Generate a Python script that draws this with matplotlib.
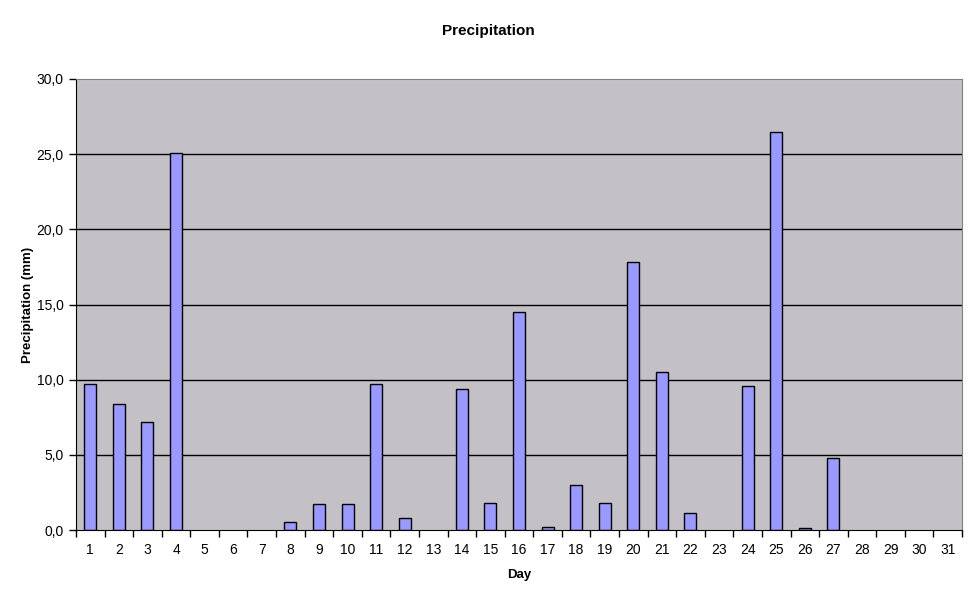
import matplotlib
matplotlib.use("Agg")
import matplotlib.pyplot as plt
import numpy as np

days = list(range(1, 32))
precip = [9.7, 8.4, 7.2, 25.1, 0, 0, 0, 0.5, 1.7, 1.7, 9.7, 0.8, 0, 9.4, 1.8, 14.5,
          0.2, 3.0, 1.8, 17.8, 10.5, 1.1, 0, 9.6, 26.5, 0.1, 4.8, 0, 0, 0, 0]
yticks = [0, 5, 10, 15, 20, 25, 30]
ytick_labels = ["0,0", "5,0", "10,0", "15,0", "20,0", "25,0", "30,0"]

plt.rcParams['font.family'] = ['Liberation Sans', 'DejaVu Sans']
fig = plt.figure(figsize=(9.77, 6.0), dpi=100)
ax = fig.add_axes([76/977, 70/600, (962-76)/977, (530-79)/600])
ax.set_facecolor('#C3C1C6')

x = np.arange(len(days))
for v in yticks[1:-1]:
    ax.axhline(v, color='black', lw=1, zorder=1)
edges = ['black' if v > 0 else 'none' for v in precip]
ax.bar(x, precip, width=0.42, color='#9999FF', edgecolor=edges, lw=1, zorder=2)

ax.set_xlim(-0.5, len(days) - 0.5)
ax.set_ylim(0, 30)
ax.set_xticks(x)
ax.set_xticklabels([str(d) for d in days], fontsize=10)
ax.set_xticks(np.arange(-0.5, len(days), 1), minor=True)
ax.tick_params(axis='x', which='major', length=0, pad=9)
ax.tick_params(axis='x', which='minor', length=5, width=1, direction='out')
ax.set_yticks(yticks)
ax.set_yticklabels(ytick_labels, fontsize=10)
ax.tick_params(axis='y', length=5, width=1, direction='out', pad=4)

for s in ['top', 'right']:
    ax.spines[s].set_color('#808080')
for s in ['left', 'bottom']:
    ax.spines[s].set_color('black')

ax.set_xlabel('Day', fontsize=9.5, fontweight='bold', labelpad=9)
ax.set_ylabel('Precipitation (mm)', fontsize=9.5, fontweight='bold')
ax.yaxis.set_label_coords(-0.047, 0.5)
fig.text(488/977, 1 - 31/600, 'Precipitation', ha='center', va='center', fontsize=11, fontweight='bold')

fig.savefig('out.png', dpi=100, facecolor='white')
